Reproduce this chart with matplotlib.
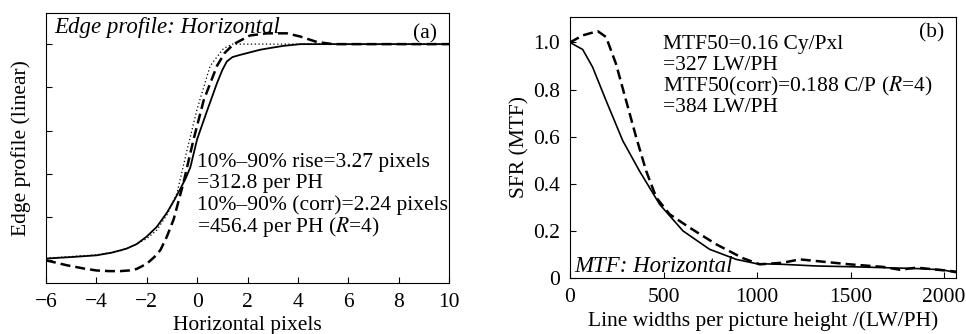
import matplotlib.pyplot as plt

plt.rcParams['font.family'] = ['Liberation Serif', 'DejaVu Serif']
plt.rcParams['mathtext.fontset'] = 'stix'

# (a) edge profile
edge_solid_x = [-6, -5, -4, -3.4, -2.8, -2.4, -2, -1.6, -1.2, -0.9, -0.67, -0.45, -0.27, 0, 0.39, 0.79, 1.0, 1.18, 1.4, 1.7, 2.1, 2.5, 3.0, 3.43, 4.1, 5, 6, 8, 10]
edge_solid_y = [0.008, 0.015, 0.023, 0.035, 0.054, 0.075, 0.11, 0.155, 0.22, 0.28, 0.33, 0.38, 0.43, 0.56, 0.69, 0.82, 0.88, 0.92, 0.94, 0.95, 0.962, 0.974, 0.984, 0.992, 1.0, 1.0, 1.0, 1.0, 1.0]
edge_dash_x = [-6, -5.17, -4.5, -4, -3.5, -3.05, -2.7, -2.4, -2, -1.7, -1.46, -1.2, -0.93, -0.54, -0.14, 0.26, 0.79, 1.1, 1.45, 2.1, 2.77, 3.56, 4.1, 4.75, 5.4, 6, 8, 10]
edge_dash_y = [0.0, -0.023, -0.038, -0.047, -0.05, -0.05, -0.047, -0.04, -0.016, 0.015, 0.047, 0.11, 0.19, 0.36, 0.56, 0.74, 0.9, 0.96, 1.0, 1.04, 1.05, 1.05, 1.035, 1.01, 1.0, 1.0, 1.0, 1.0]
edge_dot_x = [-6, -4, -3, -2.5, -2, -1.6, -1.2, -0.8, -0.4, 0, 0.52, 1.05, 1.4, 4, 6, 8, 10]
edge_dot_y = [0.01, 0.025, 0.045, 0.07, 0.1, 0.14, 0.21, 0.31, 0.51, 0.7, 0.9, 0.98, 1.0, 1.0, 1.0, 1.0, 1.0]
edge_notes = ['10%–90% rise=3.27 pixels', '=312.8 per PH',
              '10%–90% (corr)=2.24 pixels', '=456.4 per PH ($R$=4)']

# (b) MTF
mtf_solid_x = [0, 68, 121, 193, 282, 371, 479, 604, 746, 889, 996, 1139, 1318, 1496, 1675, 1854, 1990, 2064]
mtf_solid_y = [1.0, 0.97, 0.895, 0.753, 0.583, 0.455, 0.313, 0.2, 0.122, 0.079, 0.061, 0.058, 0.051, 0.048, 0.044, 0.04, 0.035, 0.023]
mtf_dash_x = [0, 68, 148, 193, 246, 300, 354, 407, 461, 532, 639, 782, 925, 1014, 1139, 1229, 1318, 1496, 1675, 1764, 1854, 1943, 2064]
mtf_dash_y = [1.0, 1.03, 1.048, 1.023, 0.909, 0.753, 0.597, 0.455, 0.342, 0.271, 0.214, 0.143, 0.084, 0.058, 0.065, 0.079, 0.072, 0.058, 0.047, 0.035, 0.044, 0.037, 0.027]
mtf_notes = ['MTF50=0.16 Cy/Pxl', '=327 LW/PH',
             'MTF50(corr)=0.188 C/P ($R$=4)', '=384 LW/PH']

fig = plt.figure(figsize=(9.66, 3.34), dpi=100)
fs = 15.5

ax1 = fig.add_axes([46/966, 51/334, 403/966, 270/334])
ax1.plot(edge_dot_x, edge_dot_y, color='k', lw=0.9, ls=(0, (1, 2)))
ax1.plot(edge_dash_x, edge_dash_y, color='k', lw=1.8, ls=(0, (4, 2)))
ax1.plot(edge_solid_x, edge_solid_y, color='k', lw=1.3)
ax1.set_xlim(-6, 10)
ax1.set_ylim(-0.105, 1.144)
ax1.set_xticks([-6, -4, -2, 0, 2, 4, 6, 8, 10])
ax1.set_yticks([0, 0.2, 0.4, 0.6, 0.8, 1.0])
ax1.set_yticklabels([])
ax1.set_xlabel('Horizontal pixels', fontsize=fs, labelpad=3)
ax1.set_ylabel('Edge profile (linear)', fontsize=fs, labelpad=4)
ax1.text(0.02, 0.985, 'Edge profile: Horizontal', transform=ax1.transAxes, style='italic', fontsize=16.5, va='top', ha='left')
ax1.text(0.97, 0.96, '(a)', transform=ax1.transAxes, fontsize=fs, va='top', ha='right')
# one text per line, 21.7 px apart
for i, s in enumerate(edge_notes):
    ax1.text(0.375, (334 - 51 - 162 - 21.7 * i) / 270, s, transform=ax1.transAxes,
             fontsize=fs, va='center', ha='left')

ax2 = fig.add_axes([570/966, 56/334, 386/966, 261/334])
ax2.plot(mtf_dash_x, mtf_dash_y, color='k', lw=1.8, ls=(0, (4, 2)))
ax2.plot(mtf_solid_x, mtf_solid_y, color='k', lw=1.2)
ax2.set_xlim(0, 2064)
ax2.set_ylim(0, 1.108)
ax2.set_xticks([0, 500, 1000, 1500, 2000])
ax2.set_yticks([0, 0.2, 0.4, 0.6, 0.8, 1.0])
ax2.set_yticklabels(['0', '0.2', '0.4', '0.6', '0.8', '1.0'])
ax2.set_xlabel('Line widths per picture height /(LW/PH)', fontsize=fs, labelpad=3)
ax2.set_ylabel('SFR (MTF)', fontsize=fs, labelpad=3)
ax2.text(0.97, 0.975, '(b)', transform=ax2.transAxes, fontsize=fs, va='top', ha='right')
ax2.text(0.01, 0.005, 'MTF: Horizontal', transform=ax2.transAxes, style='italic', fontsize=16.5, va='bottom', ha='left')
for i, s in enumerate(mtf_notes):
    ax2.text(0.24, (334 - 56 - 44 - 21.3 * i) / 261, s, transform=ax2.transAxes,
             fontsize=fs, va='center', ha='left')

for ax in (ax1, ax2):
    ax.tick_params(direction='in', length=4, labelsize=fs, pad=7)

fig.savefig('out.png', dpi=100)
